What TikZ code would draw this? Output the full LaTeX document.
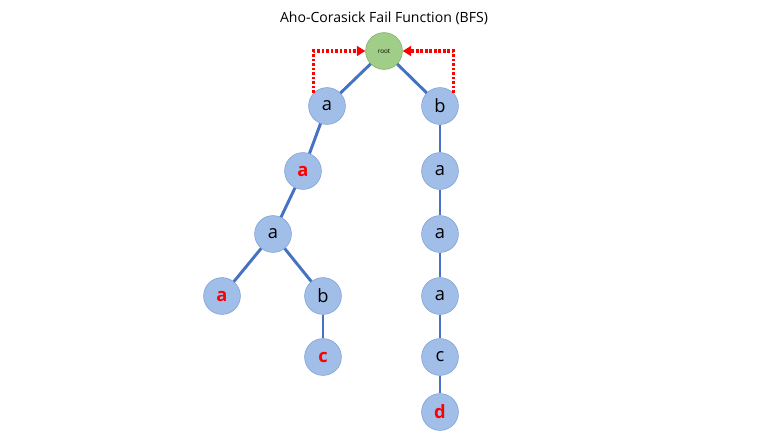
\documentclass[tikz,border=0pt]{standalone}
\usepackage{fontspec}
\setmainfont{Open Sans}
\usepackage{tikz}
\usetikzlibrary{arrows.meta}
\usetikzlibrary{positioning}
\definecolor{nodefill}{RGB}{160,190,232}
\definecolor{nodeline}{RGB}{125,160,210}
\definecolor{rootfill}{RGB}{160,205,135}
\definecolor{rootline}{RGB}{125,175,105}
\definecolor{edgeblue}{RGB}{70,114,196}
\tikzset{
  trie/.style={circle, draw=nodeline, fill=nodefill, minimum size=0.92cm, inner sep=0pt, font=\fontsize{13}{13}\selectfont},
  hit/.style={text=red, font=\bfseries\fontsize{13}{13}\selectfont},
  fail/.style={-{Triangle[length=6pt,width=7pt]}, red, line width=2.2pt, dash pattern=on 1.8pt off 1.4pt}
}
\begin{document}
\begin{tikzpicture}[x=0.025cm, y=-0.025cm]
    \useasboundingbox (0,0) rectangle (773,435);
    \node (title) at (384,18) {\fontsize{10}{10}\selectfont Aho-Corasick Fail Function (BFS)};
    \node[trie, fill=rootfill, draw=rootline, font=\fontsize{4.5}{4.5}\selectfont] (R) at (384,51) {root};
    \node[trie] (A1) at (327,106) {a};
    \node[trie] (B1) at (440,106) {b};
    \node[trie, hit] (A2) at (303,171) {a};
    \node[trie] (A3) at (273,234) {a};
    \node[trie, hit] (A4) at (222,296) {a};
    \node[trie] (B2) at (323,296) {b};
    \node[trie, hit] (C1) at (323,357) {c};
    \node[trie] (A5) at (440,171) {a};
    \node[trie] (A6) at (440,234) {a};
    \node[trie] (A7) at (440,296) {a};
    \node[trie] (C2) at (440,357) {c};
    \node[trie, hit] (D1) at (440,412) {d};
    \path [edgeblue, line width=2.1pt] (R) edge (A1) (R) edge (B1)
      (A1) edge (A2) (A2) edge (A3) (A3) edge (A4) (A3) edge (B2) (B2) edge (C1)
      (B1) edge (A5) (A5) edge (A6) (A6) edge (A7) (A7) edge (C2) (C2) edge (D1);
    \draw [fail] (A1.135) |- (R.west);
    \draw [fail] (B1.45) |- (R.east);
  \end{tikzpicture}
\end{document}
